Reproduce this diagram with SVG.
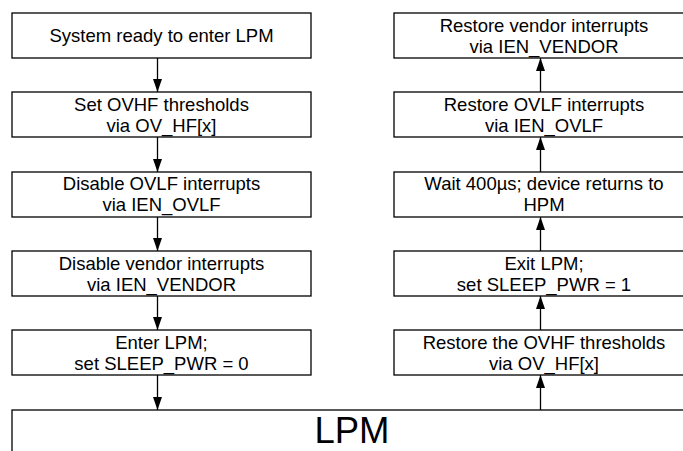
<svg xmlns="http://www.w3.org/2000/svg" width="683" height="451" viewBox="0 0 683 451">
<defs>
<style>
.box{fill:#fff;stroke:#000;stroke-width:1.3}
.t{font-family:"Liberation Sans",Arial,sans-serif;font-size:18.5px;fill:#000;text-anchor:middle}
.big{font-family:"Liberation Sans",Arial,sans-serif;font-size:36.5px;fill:#000;text-anchor:middle}
.c{stroke:#000;stroke-width:1.3;fill:none;marker-end:url(#ah)}
</style>
<marker id="ah" viewBox="0 0 13 9" refX="13" refY="4.5" markerWidth="13" markerHeight="9" markerUnits="userSpaceOnUse" orient="auto">
<path d="M0,0 L13,4.5 L0,9 Z" fill="#000"/>
</marker>
</defs>
<rect width="683" height="451" fill="#fff"/>
<g id="connectors">
<line class="c" x1="157.5" y1="58" x2="157.5" y2="92"/>
<line class="c" x1="157.5" y1="137" x2="157.5" y2="172"/>
<line class="c" x1="157.5" y1="217" x2="157.5" y2="251"/>
<line class="c" x1="157.5" y1="296" x2="157.5" y2="330"/>
<line class="c" x1="157.5" y1="375" x2="157.5" y2="410"/>
<line class="c" x1="540.5" y1="410" x2="540.5" y2="375"/>
<line class="c" x1="540.5" y1="330" x2="540.5" y2="296"/>
<line class="c" x1="540.5" y1="251" x2="540.5" y2="217"/>
<line class="c" x1="540.5" y1="172" x2="540.5" y2="137"/>
<line class="c" x1="540.5" y1="92" x2="540.5" y2="58"/>
</g>
<g id="n1"><rect class="box" x="12" y="13" width="299" height="45"/><text class="t" x="161.5" y="42">System ready to enter LPM</text></g>
<g id="n2"><rect class="box" x="12" y="92" width="299" height="45"/><text class="t" x="161.5" y="110.5">Set OVHF thresholds</text><text class="t" x="161.5" y="131.5">via OV_HF[x]</text></g>
<g id="n3"><rect class="box" x="12" y="172" width="299" height="45"/><text class="t" x="161.5" y="190">Disable OVLF interrupts</text><text class="t" x="161.5" y="211">via IEN_OVLF</text></g>
<g id="n4"><rect class="box" x="12" y="251" width="299" height="45"/><text class="t" x="161.5" y="269.5">Disable vendor interrupts</text><text class="t" x="161.5" y="290.5">via IEN_VENDOR</text></g>
<g id="n5"><rect class="box" x="12" y="330" width="299" height="45"/><text class="t" x="161.5" y="348.5">Enter LPM;</text><text class="t" x="161.5" y="369.5">set SLEEP_PWR = 0</text></g>
<g id="lpm"><rect class="box" x="12" y="410" width="700" height="60"/><text class="big" x="352" y="443">LPM</text></g>
<g id="r5"><rect class="box" x="394" y="330" width="300" height="45"/><text class="t" x="544" y="348.5">Restore the OVHF thresholds</text><text class="t" x="544" y="369.5">via OV_HF[x]</text></g>
<g id="r4"><rect class="box" x="394" y="251" width="300" height="45"/><text class="t" x="544" y="269.5">Exit LPM;</text><text class="t" x="544" y="290.5">set SLEEP_PWR = 1</text></g>
<g id="r3"><rect class="box" x="394" y="172" width="300" height="45"/><text class="t" x="544" y="190">Wait 400µs; device returns to</text><text class="t" x="544" y="211">HPM</text></g>
<g id="r2"><rect class="box" x="394" y="92" width="300" height="45"/><text class="t" x="544" y="110.5">Restore OVLF interrupts</text><text class="t" x="544" y="131.5">via IEN_OVLF</text></g>
<g id="r1"><rect class="box" x="394" y="13" width="300" height="45"/><text class="t" x="544" y="31.5">Restore vendor interrupts</text><text class="t" x="544" y="52.5">via IEN_VENDOR</text></g>
</svg>
